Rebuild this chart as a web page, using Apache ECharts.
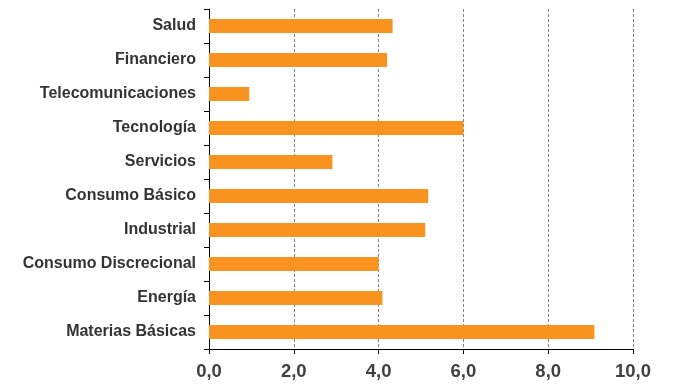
<!DOCTYPE html>
<html>
<head>
<meta charset="utf-8">
<script src="https://cdn.jsdelivr.net/npm/echarts@6/dist/echarts.min.js"></script>
<style>
  html, body { margin: 0; padding: 0; background: #fff; }
  #main { width: 688px; height: 387px; }
</style>
</head>
<body>
<div id="main"></div>
<script>
// categorias de abajo hacia arriba
let sectores = ['Materias Básicas', 'Energía', 'Consumo Discrecional', 'Industrial', 'Consumo Básico',
    'Servicios', 'Tecnología', 'Telecomunicaciones', 'Financiero', 'Salud']
let valores = [9.09, 4.09, 4.0, 5.1, 5.17, 2.91, 6.0, 0.95, 4.2, 4.33]
let ejeX = [0, 2, 4, 6, 8, 10]

var myChart = echarts.init(document.getElementById('main'))
let option = {
    animation: false,
    grid: {
        left: 209,
        right: 55,
        top: 9,
        bottom: 38
    },
    xAxis: {
        type: 'value',
        min: ejeX[0],
        max: ejeX[ejeX.length - 1],
        interval: ejeX[1] - ejeX[0],
        axisLine: { show: true, lineStyle: { color: '#000', width: 1 } },
        axisTick: { show: true, length: 5, lineStyle: { color: '#000' } },
        axisLabel: {
            margin: 13,
            fontFamily: 'Liberation Sans, Arial, sans-serif',
            fontWeight: 'bold',
            fontSize: 18.5,
            color: '#404040',
            formatter: (v) => v.toFixed(1).replace('.', ',')
        },
        splitLine: {
            show: true,
            lineStyle: { color: '#858585', type: [3, 2], width: 1 }
        }
    },
    yAxis: {
        type: 'category',
        data: sectores,
        axisLine: { show: true, lineStyle: { color: '#000', width: 1 } },
        axisTick: { show: true, length: 5, lineStyle: { color: '#000' } },
        axisLabel: {
            margin: 13,
            padding: [6, 0, 0, 0],
            fontFamily: 'Liberation Sans, Arial, sans-serif',
            fontWeight: 'bold',
            fontSize: 16,
            color: '#333'
        }
    },
    series: [
        {
            type: 'bar',
            data: valores,
            barWidth: 14,
            itemStyle: { color: '#F7931E' }
        }
    ]
}
myChart.setOption(option)
</script>
</body>
</html>
